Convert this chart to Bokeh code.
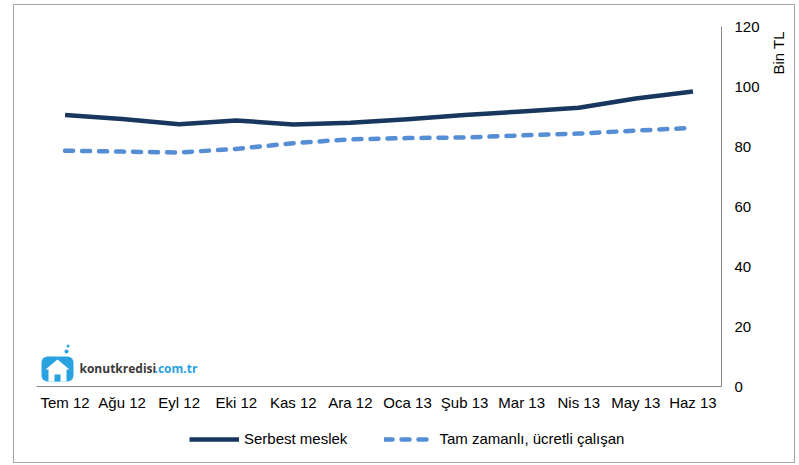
import math
from bokeh.plotting import figure
from bokeh.models import (Range1d, Legend, LegendItem, Label, BoxAnnotation,
                          PolyAnnotation, ColumnDataSource)
from bokeh.embed import file_html
from bokeh.resources import INLINE

months = ["Tem 12", "Ağu 12", "Eyl 12", "Eki 12", "Kas 12", "Ara 12",
          "Oca 13", "Şub 13", "Mar 13", "Nis 13", "May 13", "Haz 13"]
serbest = [90.5, 89.2, 87.4, 88.7, 87.3, 87.9, 89.1, 90.5, 91.7, 92.9, 96.0, 98.3]
tam_zamanli = [78.6, 78.3, 78.0, 79.2, 81.1, 82.4, 82.8, 83.0, 83.7, 84.3, 85.3, 86.2]
y_ticks = [0, 20, 40, 60, 80, 100, 120]

FONT = "Liberation Sans"
src = ColumnDataSource(dict(m=months, s=serbest, t=tam_zamanli))

p = figure(x_range=months, y_range=Range1d(-25, 120), width=782, height=459,
           output_backend="svg", toolbar_location=None, y_axis_location="right",
           min_border_left=22, min_border_top=21, min_border_right=75,
           min_border_bottom=3)
p.margin = (4, 0, 0, 13)
p.styles = {"border": "1px solid #A6A6A6", "box-sizing": "border-box"}
p.outline_line_color = None
p.grid.grid_line_color = None
p.background_fill_color = "white"

for ax in (p.xaxis[0], p.yaxis[0]):
    ax.axis_line_color = "#868686"
    ax.axis_line_width = 1
    ax.major_tick_line_color = None
    ax.minor_tick_line_color = None
    ax.major_tick_out = 0
    ax.major_tick_in = 0
    ax.major_label_text_font = FONT
    ax.major_label_text_font_size = "15px"
    ax.major_label_text_color = "#000000"
p.xaxis[0].fixed_location = 0
p.xaxis[0].major_label_standoff = 7

ya = p.yaxis[0]
ya.ticker = y_ticks
ya.bounds = (0, 120)
ya.major_label_standoff = 13

r1 = p.line("m", "s", source=src, line_color="#17375E", line_width=4.5,
            line_join="round")
r2 = p.line("m", "t", source=src, line_color="#558ED5", line_width=4.5,
            line_dash="8 9", line_cap="round", line_join="round")

legend = Legend(items=[LegendItem(label="Serbest meslek", renderers=[r1]),
                       LegendItem(label="Tam zamanlı, ücretli çalışan", renderers=[r2])],
                orientation="horizontal", location=(153, 14), glyph_width=50,
                glyph_height=16, label_standoff=5, spacing=37, padding=0, margin=0,
                border_line_color=None, background_fill_alpha=0,
                label_text_font=FONT, label_text_font_size="15px",
                label_text_color="#000000")
p.add_layout(legend)

p.add_layout(Label(x=7, y=387, x_units="screen", y_units="screen", text="Bin TL",
                   angle=math.pi / 2, text_align="left", text_baseline="top",
                   text_font=FONT, text_font_size="15px", text_color="#000000"), "right")

# logo (screen units, relative to the frame)
def sbox(l, r, b, t, radius=0):
    return BoxAnnotation(left=l, right=r, bottom=b, top=t, left_units="screen",
                         right_units="screen", bottom_units="screen", top_units="screen",
                         fill_color="#29A3E0", fill_alpha=1, line_color=None,
                         border_radius=radius)

p.add_layout(sbox(5, 37, 80, 105, 6))
p.add_layout(PolyAnnotation(xs=[12, 12, 9, 21, 33, 30, 30],
                            ys=[80, 92, 92, 102, 92, 92, 80],
                            xs_units="screen", ys_units="screen", fill_color="white",
                            fill_alpha=1, line_color=None))
p.add_layout(sbox(18, 24, 80, 87))
p.add_layout(sbox(28, 32, 108, 112, 2))
p.add_layout(sbox(30, 33, 114, 117, 2))
p.add_layout(Label(x=43, y=93, x_units="screen", y_units="screen", text="konutkredisi",
                   text_baseline="middle", text_font="Open Sans",
                   text_font_size="12px", text_font_style="bold", text_color="#3A3A3A"))
p.add_layout(Label(x=118, y=93, x_units="screen", y_units="screen", text=".com.tr",
                   text_baseline="middle", text_font="Open Sans",
                   text_font_size="12px", text_font_style="bold", text_color="#29A3E0"))

open("out.html", "w").write(file_html(p, INLINE))
